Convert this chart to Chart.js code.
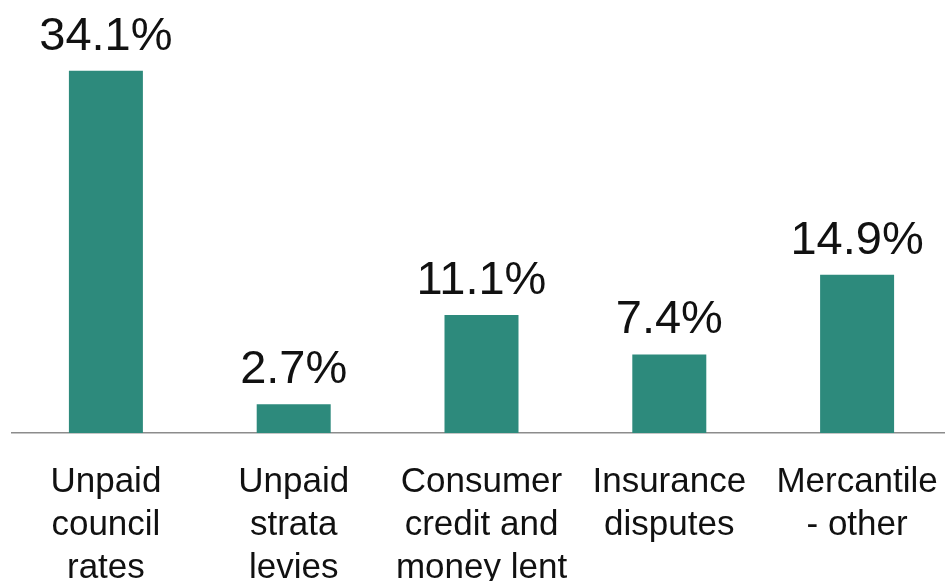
<!DOCTYPE html>
<html>
<head>
<meta charset="utf-8">
<script src="https://cdn.jsdelivr.net/npm/chart.js@4/dist/chart.umd.min.js"></script>
<style>
  html, body { margin: 0; padding: 0; background: #fff; overflow: hidden; }
  #wrap { width: 960px; height: 581px; }
</style>
</head>
<body>
<div id="wrap"><canvas id="claims_chart" width="960" height="581"></canvas></div>
<script>
// カテゴリと値
const categories = [
  ['Unpaid', 'council', 'rates'],
  ['Unpaid', 'strata', 'levies'],
  ['Consumer', 'credit and', 'money lent'],
  ['Insurance', 'disputes'],
  ['Mercantile', '- other']
];
const shares = [34.1, 2.7, 11.1, 7.4, 14.9];
const shareLabels = ['34.1%', '2.7%', '11.1%', '7.4%', '14.9%'];

// 棒の上に値を書く
const valueLabels = {
  id: 'valueLabels',
  afterDatasetsDraw(chart) {
    const ctx = chart.ctx;
    const meta = chart.getDatasetMeta(0);
    ctx.save();
    ctx.font = '47px "Liberation Sans", Arial, sans-serif';
    ctx.fillStyle = '#111';
    ctx.textAlign = 'center';
    ctx.textBaseline = 'alphabetic';
    meta.data.forEach(function (bar, i) {
      ctx.fillText(shareLabels[i], bar.x, bar.y - 21);
    });
    ctx.restore();
  }
};

let ctx = document.getElementById('claims_chart');
let config = {
  type: 'bar',
  data: {
    labels: categories,
    datasets: [{
      data: shares,
      backgroundColor: '#2D8A7C',
      borderWidth: 0,
      barPercentage: 1,
      categoryPercentage: 0.394
    }]
  },
  options: {
    responsive: false,
    animation: false,
    layout: { padding: { top: 8, left: 12, right: 9, bottom: 0 } },
    plugins: {
      legend: { display: false },
      tooltip: { enabled: false }
    },
    scales: {
      x: {
        grid: { display: false },
        border: { display: true, color: '#8c8c8c', width: 1.5 },
        ticks: {
          color: '#111',
          font: { family: '"Liberation Sans", Arial, sans-serif', size: 35, lineHeight: 1.23 },
          padding: 20,
          maxRotation: 0,
          autoSkip: false
        },
        afterFit: function (scale) { scale.height = 148; }
      },
      y: {
        display: false,
        min: 0,
        max: 40
      }
    }
  },
  plugins: [valueLabels]
};
let chart = new Chart(ctx, config);
</script>
</body>
</html>
